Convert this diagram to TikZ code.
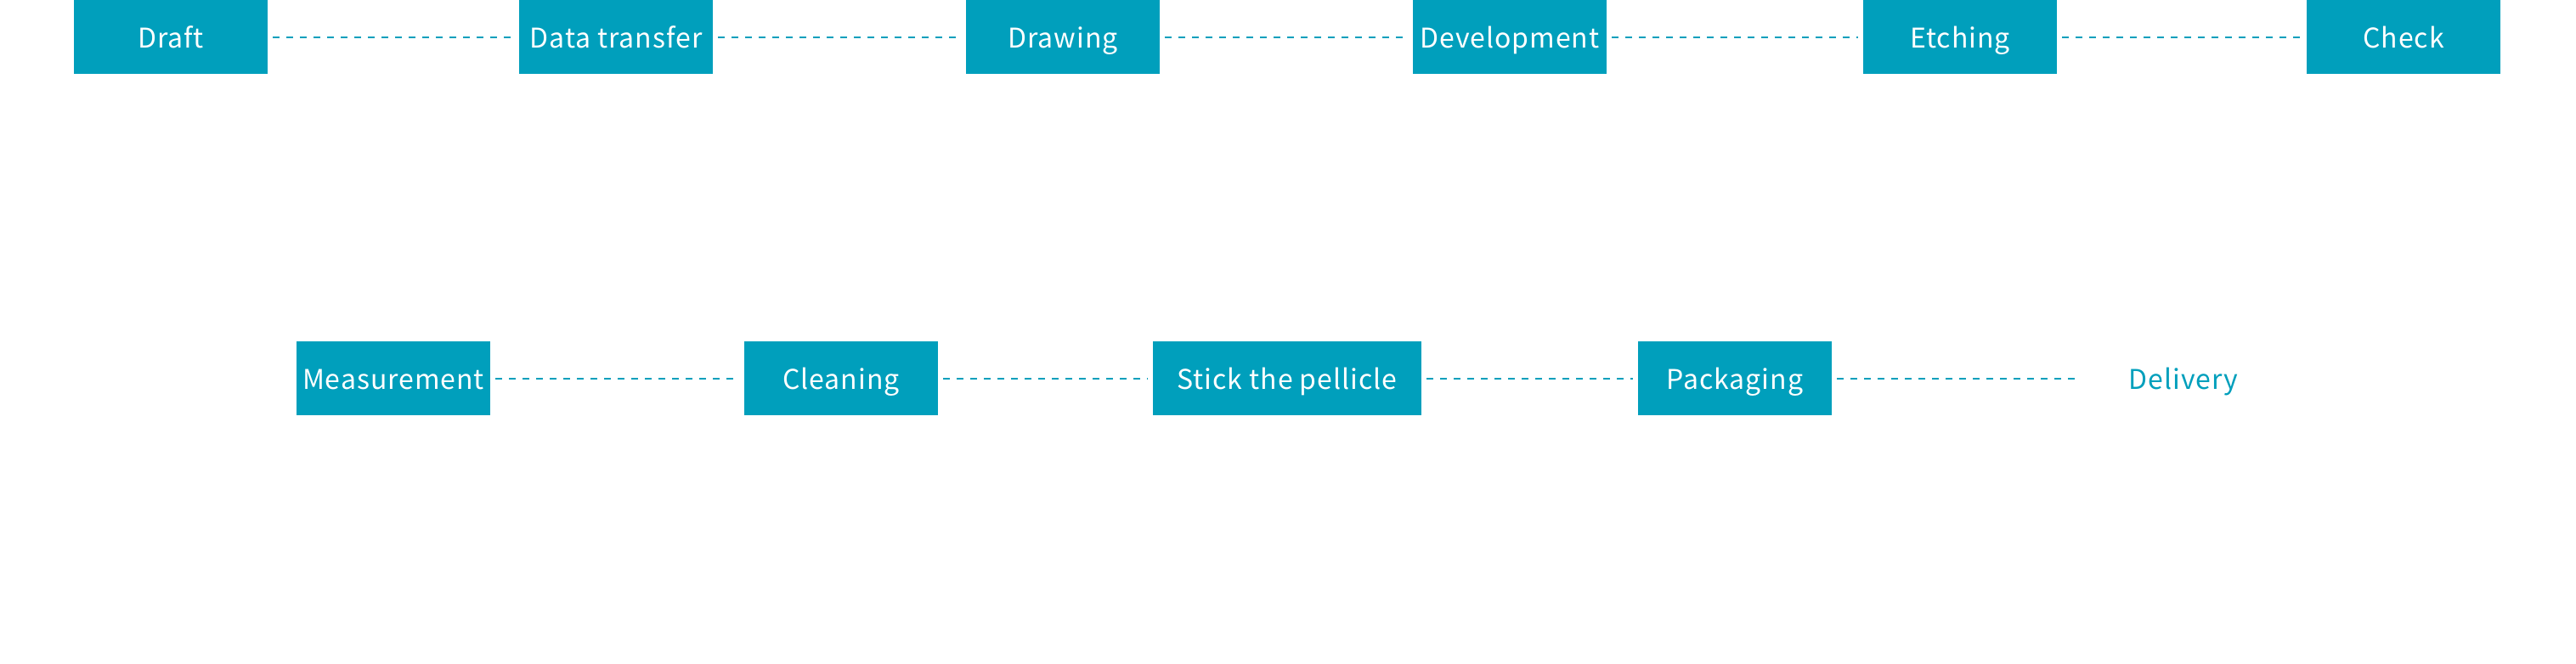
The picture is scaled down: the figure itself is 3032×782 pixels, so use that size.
\documentclass[tikz,border=0pt]{standalone}
\usepackage{fontspec}
\newfontfamily\stepfont[LetterSpace=3]{Noto Sans CJK SC}
\usepackage{tikz}
\usetikzlibrary{positioning}
\definecolor{maskteal}{HTML}{009FBC}

\begin{document}
\begin{tikzpicture}
[x=0.5pt,y=-0.5pt,
 stepbox/.style={rectangle,fill=maskteal,text=white,inner sep=0pt,text height=15pt,text depth=2.5pt,minimum width=114pt,minimum height=43.5pt,font=\stepfont\fontsize{16}{20}\selectfont},
 endbox/.style={stepbox,fill=none,text=maskteal},
 link/.style={draw=maskteal,line width=1pt,dash pattern=on 4pt off 4pt,shorten <=3pt,shorten >=3pt}]
\useasboundingbox (0,0) rectangle (3032,782);
% first row
\node[stepbox] (draft) at (201,43.5) {Draft};
\node[stepbox] (transfer) at (725,43.5) {Data transfer};
\node[stepbox] (drawing) at (1251,43.5) {Drawing};
\node[stepbox] (develop) at (1777,43.5) {Development};
\node[stepbox] (etching) at (2307,43.5) {Etching};
\node[stepbox] (check) at (2829,43.5) {Check};
% second row
\node[stepbox] (measure) at (463,445.5) {Measurement};
\node[stepbox] (cleaning) at (990,445.5) {Cleaning};
\node[stepbox,minimum width=158pt] (pellicle) at (1515,445.5) {Stick the pellicle};
\node[stepbox] (packaging) at (2042,445.5) {Packaging};
\node[endbox] (delivery) at (2570,445.5) {Delivery};

\draw [link] (draft) -- (transfer);
\draw [link] (transfer) -- (drawing);
\draw [link] (drawing) -- (develop);
\draw [link] (develop) -- (etching);
\draw [link] (etching) -- (check);
\draw [link] (measure) -- (cleaning);
\draw [link] (cleaning) -- (pellicle);
\draw [link] (pellicle) -- (packaging);
\draw [link] (packaging) -- (delivery);
\end{tikzpicture}
\end{document}
